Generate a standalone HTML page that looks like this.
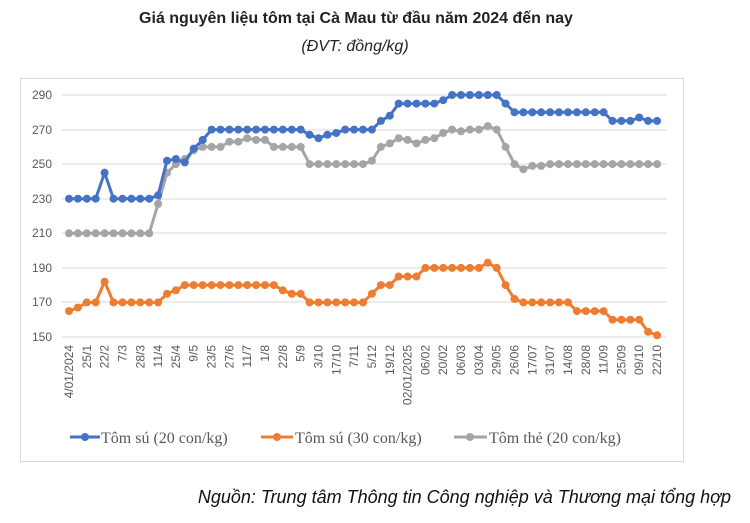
<!DOCTYPE html>
<html><head><meta charset="utf-8"><style>
body{margin:0;background:#fff;}
svg{display:block}
</style></head><body>
<svg id="s" width="750" height="523" xmlns="http://www.w3.org/2000/svg">
<defs>
<marker id="mb" markerUnits="userSpaceOnUse" markerWidth="10" markerHeight="10" refX="5" refY="5"><circle cx="5" cy="5" r="4" fill="#4472C4"/></marker>
<marker id="mo" markerUnits="userSpaceOnUse" markerWidth="10" markerHeight="10" refX="5" refY="5"><circle cx="5" cy="5" r="4" fill="#ED7D31"/></marker>
<marker id="mg" markerUnits="userSpaceOnUse" markerWidth="10" markerHeight="10" refX="5" refY="5"><circle cx="5" cy="5" r="4" fill="#A5A5A5"/></marker>
</defs>
<text x="356" y="23" text-anchor="middle" font-family="Liberation Sans Narrow, Liberation Sans, sans-serif" font-weight="bold" font-size="16" fill="#222">Giá nguyên liệu tôm tại Cà Mau từ đầu năm 2024 đến nay</text>
<text x="355" y="51" text-anchor="middle" font-family="Liberation Sans Narrow, Liberation Sans, sans-serif" font-style="italic" font-size="16" fill="#222">(ĐVT: đồng/kg)</text>
<rect x="20.5" y="78.5" width="663" height="383" fill="none" stroke="#d9d9d9"/>
<g stroke="#d9d9d9" stroke-width="1">
<line x1="62" x2="667" y1="95" y2="95"/><line x1="62" x2="667" y1="130" y2="130"/><line x1="62" x2="667" y1="164" y2="164"/><line x1="62" x2="667" y1="199" y2="199"/><line x1="62" x2="667" y1="233" y2="233"/><line x1="62" x2="667" y1="268" y2="268"/><line x1="62" x2="667" y1="302" y2="302"/><line x1="62" x2="667" y1="337" y2="337"/>
</g>
<g font-family="Liberation Sans, sans-serif" font-size="12" fill="#595959" text-anchor="end">
<text x="52" y="99">290</text><text x="52" y="134">270</text><text x="52" y="168">250</text><text x="52" y="203">230</text><text x="52" y="237">210</text><text x="52" y="272">190</text><text x="52" y="306">170</text><text x="52" y="341">150</text>
</g>
<g id="xl" font-family="Liberation Sans, sans-serif" font-size="12" fill="#595959" text-anchor="end">
<text>4/01/2024</text><text>25/1</text><text>22/2</text><text>7/3</text><text>28/3</text><text>11/4</text><text>25/4</text><text>9/5</text><text>23/5</text><text>27/6</text><text>11/7</text><text>1/8</text><text>22/8</text><text>5/9</text><text>3/10</text><text>17/10</text><text>7/11</text><text>5/12</text><text>19/12</text><text>02/01/2025</text><text>06/02</text><text>20/02</text><text>06/03</text><text>03/04</text><text>29/05</text><text>26/06</text><text>17/07</text><text>31/07</text><text>14/08</text><text>28/08</text><text>11/09</text><text>25/09</text><text>09/10</text><text>22/10</text>
</g>
<polyline id="pg" fill="none" stroke="#A5A5A5" stroke-width="3" marker-start="url(#mg)" marker-mid="url(#mg)" marker-end="url(#mg)"/>
<polyline id="po" fill="none" stroke="#ED7D31" stroke-width="3" marker-start="url(#mo)" marker-mid="url(#mo)" marker-end="url(#mo)"/>
<polyline id="pb" fill="none" stroke="#4472C4" stroke-width="3" marker-start="url(#mb)" marker-mid="url(#mb)" marker-end="url(#mb)"/>
<g font-family="Liberation Serif, serif" font-size="16" fill="#595959">
<line x1="70" x2="100" y1="437" y2="437" stroke="#4472C4" stroke-width="3"/><circle cx="85" cy="437" r="4" fill="#4472C4"/>
<text x="101" y="443">Tôm sú (20 con/kg)</text>
<line x1="261" x2="293" y1="437" y2="437" stroke="#ED7D31" stroke-width="3"/><circle cx="277" cy="437" r="4" fill="#ED7D31"/>
<text x="295" y="443">Tôm sú (30 con/kg)</text>
<line x1="454" x2="487" y1="437" y2="437" stroke="#A5A5A5" stroke-width="3"/><circle cx="470" cy="437" r="4" fill="#A5A5A5"/>
<text x="489" y="443">Tôm thẻ (20 con/kg)</text>
</g>
<text x="731" y="503" text-anchor="end" font-family="Liberation Sans Narrow, Liberation Sans, sans-serif" font-style="italic" font-size="18" fill="#111">Nguồn: Trung tâm Thông tin Công nghiệp và Thương mại tổng hợp</text>
</svg>
<script>
function ex(a){var r=[];a.forEach(function(p){for(var k=0;k<p[1];k++)r.push(p[0]);});return r;}
var B=ex([[230,4],[245,1],[230,5],[232,1],[252,1],[253,1],[251,1],[259,1],[264,1],[270,11],[267,1],[265,1],[267,1],[268,1],[270,4],[275,1],[278,1],[285,5],[287,1],[290,6],[285,1],[280,11],[275,3],[277,1],[275,2]]);
var O=ex([[165,1],[167,1],[170,2],[182,1],[170,6],[175,1],[177,1],[180,11],[177,1],[175,2],[170,7],[175,1],[180,2],[185,3],[190,7],[193,1],[190,1],[180,1],[172,1],[170,6],[165,4],[160,4],[153,1],[151,1]]);
var G=ex([[210,10],[227,1],[245,1],[250,1],[253,1],[258,1],[260,3],[263,2],[265,1],[264,2],[260,4],[250,7],[252,1],[260,1],[262,1],[265,1],[264,1],[262,1],[264,1],[265,1],[268,1],[270,1],[269,1],[270,2],[272,1],[270,1],[260,1],[250,1],[247,1],[249,2],[250,13]]);
function X(i){return 69+8.91*i;}function Y(v){return 337-(v-150)*1.7286;}
function pts(a){return a.map(function(v,i){return X(i).toFixed(1)+','+Y(v).toFixed(1);}).join(' ');}
document.getElementById('pb').setAttribute('points',pts(B));
document.getElementById('po').setAttribute('points',pts(O));
document.getElementById('pg').setAttribute('points',pts(G));
var t=document.getElementById('xl').children;
for(var i=0;i<t.length;i++){var x=X(2*i)+4;t[i].setAttribute('transform','translate('+x.toFixed(1)+',345) rotate(-90)');}
</script>
</body></html>
